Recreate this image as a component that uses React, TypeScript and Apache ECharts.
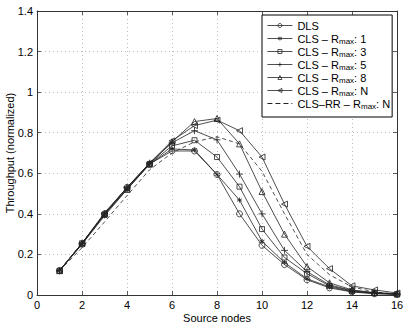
import React, { useEffect, useRef } from "react";
import * as echarts from "echarts";

const xNodes = [1, 2, 3, 4, 5, 6, 7, 8, 9, 10, 11, 12, 13, 14, 15, 16];
const dls = [0.12, 0.25, 0.4, 0.53, 0.645, 0.71, 0.71, 0.594, 0.4, 0.245, 0.15, 0.075, 0.035, 0.015, 0.006, 0.003];
const cls1 = [0.12, 0.25, 0.39, 0.52, 0.645, 0.72, 0.715, 0.594, 0.468, 0.265, 0.16, 0.08, 0.04, 0.017, 0.008, 0.004];
const cls3 = [0.12, 0.255, 0.395, 0.525, 0.645, 0.735, 0.763, 0.68, 0.534, 0.325, 0.185, 0.105, 0.045, 0.02, 0.01, 0.005];
const cls5 = [0.12, 0.255, 0.4, 0.53, 0.65, 0.75, 0.81, 0.765, 0.596, 0.4, 0.22, 0.115, 0.05, 0.022, 0.01, 0.005];
const cls8 = [0.12, 0.255, 0.4, 0.52, 0.645, 0.755, 0.855, 0.87, 0.745, 0.51, 0.3, 0.14, 0.06, 0.025, 0.012, 0.005];
const clsN = [0.12, 0.255, 0.405, 0.53, 0.65, 0.76, 0.835, 0.862, 0.81, 0.68, 0.448, 0.24, 0.13, 0.045, 0.025, 0.01];
const clsRR = [0.12, 0.233, 0.36, 0.49, 0.617, 0.7, 0.755, 0.78, 0.745, 0.61, 0.4, 0.2, 0.1, 0.04, 0.015, 0.005];

const seriesNames = [
  "DLS",
  "CLS – R_max: 1",
  "CLS – R_max: 3",
  "CLS – R_max: 5",
  "CLS – R_max: 8",
  "CLS – R_max: N",
  "CLS–RR – R_max: N",
];

const FONT = "'Liberation Sans', Arial, Helvetica, sans-serif";
const LINE = "#222";

const SYM_PLUS = "path://M5,0L5,10M0,5L10,5";
const SYM_STAR = "path://M5,0L5,10M0.7,2.5L9.3,7.5M0.7,7.5L9.3,2.5";
const SYM_LEFT = "path://M10,0L10,10L0,5Z";
const ICON_DASH =
  "path://M0,0L5,0L5,1L0,1ZM8,0L13,0L13,1L8,1ZM16,0L21,0L21,1L16,1ZM24,0L25,0L25,1L24,1Z";

function pairs(vals: number[]) {
  return xNodes.map((x, i) => [x, vals[i]]);
}

export default function App() {
  const ref = useRef<HTMLDivElement>(null);
  useEffect(() => {
    if (!ref.current) return;
    const chart = echarts.init(ref.current, null, { renderer: "svg" });
    const mk = (
      name: string,
      vals: number[],
      symbol: string,
      size: number,
      dashed = false
    ) => ({
      name,
      type: "line",
      data: pairs(vals),
      symbol,
      symbolSize: size,
      showSymbol: symbol !== "none",
      lineStyle: { color: LINE, width: 0.8, type: dashed ? [4, 3] : "solid" },
      itemStyle: { color: "rgba(0,0,0,0)", borderColor: LINE, borderWidth: 0.8 },
      emphasis: { disabled: true },
      z: 3,
    });
    const allValues = [dls, cls1, cls3, cls5, cls8, clsN, clsRR];
    const symbols = ["circle", SYM_STAR, "rect", SYM_PLUS, "triangle", SYM_LEFT, "none"];
    const sizes = [6, 5, 5, 7, 6, 6, 0];
    const series = seriesNames.map((n, i) =>
      mk(n, allValues[i], symbols[i], sizes[i], i === 6)
    );
    const fmt = (name: string) => {
      const idx = name.indexOf("R_max");
      if (idx < 0) return "{n|" + name + "}";
      return "{n|" + name.slice(0, idx + 1) + "}{s|max}{n|" + name.slice(idx + 5) + "}";
    };
    const legendData = seriesNames.map((n, i) =>
      i === 6
        ? { name: n, icon: ICON_DASH, itemStyle: { color: LINE, borderWidth: 0 } }
        : { name: n }
    );
    const axisCommon = {
      axisLine: { show: true, onZero: false, lineStyle: { color: "#333", width: 1 } },
      axisTick: { show: true, inside: true, length: 4, lineStyle: { color: "#333", width: 0.8 } },
    };
    chart.setOption({
      animation: false,
      backgroundColor: "#fff",
      textStyle: { fontFamily: FONT },
      grid: { left: 37, top: 11, width: 360, height: 284, outerBoundsMode: "none", containLabel: false },
      legend: {
        orient: "vertical",
        left: 262,
        top: 15,
        padding: [4, 2, 7, 5],
        itemWidth: 25,
        itemHeight: 5,
        itemGap: 0,
        backgroundColor: "#fff",
        borderColor: "#000",
        borderWidth: 1,
        borderRadius: 0,
        data: legendData,
        formatter: fmt,
        itemStyle: { color: "rgba(0,0,0,0)", borderColor: LINE, borderWidth: 0.8 },
        lineStyle: { color: LINE, width: 0.8 },
        textStyle: {
          fontFamily: FONT,
          fontSize: 11,
          color: "#000",
          lineHeight: 13,
          rich: {
            n: { fontFamily: FONT, fontSize: 11, color: "#000", lineHeight: 13 },
            s: { fontFamily: FONT, fontSize: 8, color: "#000", lineHeight: 3, verticalAlign: "bottom" },
          },
        },
      },
      xAxis: [
        {
          type: "value",
          min: 0,
          max: 16,
          interval: 2,
          name: "Source nodes",
          nameLocation: "middle",
          nameGap: 17,
          nameMoveOverlap: false,
          nameTextStyle: { fontFamily: FONT, fontSize: 11, color: "#000", verticalAlign: "top" },
          ...axisCommon,
          axisLabel: { fontFamily: FONT, fontSize: 11, color: "#000", margin: 4 },
          splitLine: { show: true, lineStyle: { color: "#aaa", width: 0.8, type: [1, 3] } },
        },
        {
          type: "value",
          position: "top",
          min: 0,
          max: 16,
          interval: 2,
          ...axisCommon,
          axisLabel: { show: false },
          splitLine: { show: false },
        },
      ],
      yAxis: [
        {
          type: "value",
          min: 0,
          max: 1.4,
          interval: 0.2,
          name: "Throughput (normalized)",
          nameLocation: "middle",
          nameGap: 27,
          nameMoveOverlap: false,
          nameRotate: 90,
          nameTextStyle: { fontFamily: FONT, fontSize: 11, color: "#000", verticalAlign: "middle" },
          ...axisCommon,
          axisLabel: { fontFamily: FONT, fontSize: 11, color: "#000", margin: 4 },
          splitLine: { show: true, lineStyle: { color: "#aaa", width: 0.8, type: [1, 3] } },
        },
        {
          type: "value",
          position: "right",
          min: 0,
          max: 1.4,
          interval: 0.2,
          ...axisCommon,
          axisLabel: { show: false },
          splitLine: { show: false },
        },
      ],
      series,
    });
    return () => chart.dispose();
  }, []);
  return (
    <div
      ref={ref}
      style={{ position: "fixed", left: 0, top: 0, width: 407, height: 325, background: "#fff" }}
    />
  );
}
